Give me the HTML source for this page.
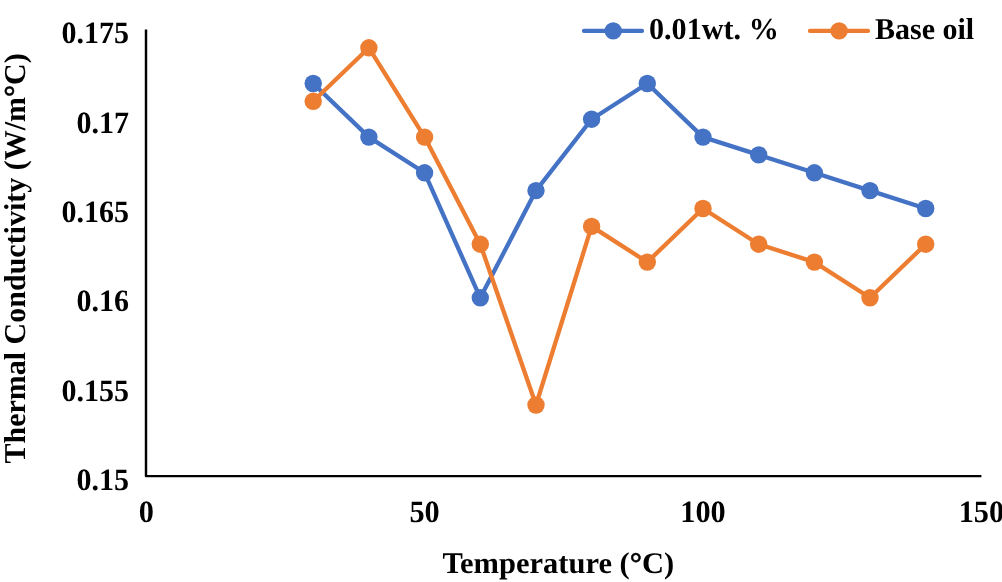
<!DOCTYPE html>
<html><head><meta charset="utf-8"><title>Chart</title>
<style>
html,body{margin:0;padding:0;background:#fff;}
body{width:1002px;height:582px;overflow:hidden;font-family:"Liberation Serif",serif;}
svg{display:block;will-change:transform;}
</style></head><body>
<svg width="1002" height="582" viewBox="0 0 1002 582">
<path d="M146.00 29.60 V476.10 H981.40" fill="none" stroke="#000" stroke-width="2.45" stroke-linejoin="round"/>
<polyline points="313.2,83.5 368.9,137.1 424.6,172.8 480.3,297.8 536.0,190.6 591.6,119.2 647.3,83.5 703.0,137.1 758.7,154.9 814.4,172.8 870.0,190.6 925.7,208.5" fill="none" stroke="#4472C4" stroke-width="4.3" stroke-linejoin="round" stroke-linecap="round"/>
<ellipse cx="313.2" cy="83.5" rx="8.7" ry="8.7" fill="#4472C4"/>
<ellipse cx="368.9" cy="137.1" rx="8.7" ry="8.7" fill="#4472C4"/>
<ellipse cx="424.6" cy="172.8" rx="8.7" ry="8.7" fill="#4472C4"/>
<ellipse cx="480.3" cy="297.8" rx="8.7" ry="8.7" fill="#4472C4"/>
<ellipse cx="536.0" cy="190.6" rx="8.7" ry="8.7" fill="#4472C4"/>
<ellipse cx="591.6" cy="119.2" rx="8.7" ry="8.7" fill="#4472C4"/>
<ellipse cx="647.3" cy="83.5" rx="8.7" ry="8.7" fill="#4472C4"/>
<ellipse cx="703.0" cy="137.1" rx="8.7" ry="8.7" fill="#4472C4"/>
<ellipse cx="758.7" cy="154.9" rx="8.7" ry="8.7" fill="#4472C4"/>
<ellipse cx="814.4" cy="172.8" rx="8.7" ry="8.7" fill="#4472C4"/>
<ellipse cx="870.0" cy="190.6" rx="8.7" ry="8.7" fill="#4472C4"/>
<ellipse cx="925.7" cy="208.5" rx="8.7" ry="8.7" fill="#4472C4"/>

<polyline points="313.2,101.3 368.9,47.8 424.6,137.1 480.3,244.2 536.0,405.0 591.6,226.4 647.3,262.1 703.0,208.5 758.7,244.2 814.4,262.1 870.0,297.8 925.7,244.2" fill="none" stroke="#ED7D31" stroke-width="4.3" stroke-linejoin="round" stroke-linecap="round"/>
<ellipse cx="313.2" cy="101.3" rx="8.7" ry="8.7" fill="#ED7D31"/>
<ellipse cx="368.9" cy="47.8" rx="8.7" ry="8.7" fill="#ED7D31"/>
<ellipse cx="424.6" cy="137.1" rx="8.7" ry="8.7" fill="#ED7D31"/>
<ellipse cx="480.3" cy="244.2" rx="8.7" ry="8.7" fill="#ED7D31"/>
<ellipse cx="536.0" cy="405.0" rx="8.7" ry="8.7" fill="#ED7D31"/>
<ellipse cx="591.6" cy="226.4" rx="8.7" ry="8.7" fill="#ED7D31"/>
<ellipse cx="647.3" cy="262.1" rx="8.7" ry="8.7" fill="#ED7D31"/>
<ellipse cx="703.0" cy="208.5" rx="8.7" ry="8.7" fill="#ED7D31"/>
<ellipse cx="758.7" cy="244.2" rx="8.7" ry="8.7" fill="#ED7D31"/>
<ellipse cx="814.4" cy="262.1" rx="8.7" ry="8.7" fill="#ED7D31"/>
<ellipse cx="870.0" cy="297.8" rx="8.7" ry="8.7" fill="#ED7D31"/>
<ellipse cx="925.7" cy="244.2" rx="8.7" ry="8.7" fill="#ED7D31"/>

<g font-family="'Liberation Serif', serif" font-weight="bold" font-size="30px" fill="#000" style="text-rendering:geometricPrecision">
<text transform="translate(129.00 43.20) scale(1.0000 1.0350)" text-anchor="end">0.175</text>
<text transform="translate(129.00 132.62) scale(1.0000 1.0350)" text-anchor="end">0.17</text>
<text transform="translate(129.00 222.04) scale(1.0000 1.0350)" text-anchor="end">0.165</text>
<text transform="translate(129.00 311.46) scale(1.0000 1.0350)" text-anchor="end">0.16</text>
<text transform="translate(129.00 400.88) scale(1.0000 1.0350)" text-anchor="end">0.155</text>
<text transform="translate(129.00 490.30) scale(1.0000 1.0350)" text-anchor="end">0.15</text>
<text transform="translate(146.20 522.45) scale(1.0100 1.0350)" text-anchor="middle">0</text>
<text transform="translate(424.60 522.45) scale(1.0100 1.0350)" text-anchor="middle">50</text>
<text transform="translate(703.00 522.45) scale(1.0100 1.0350)" text-anchor="middle">100</text>
<text transform="translate(981.40 522.45) scale(1.0100 1.0350)" text-anchor="middle">150</text>
<text transform="translate(558.30 572.80) scale(1.0165 1.0000)" text-anchor="middle">Temperature (<tspan stroke="#000" stroke-width="0.55">°</tspan>C)</text>
<text transform="translate(25.10 258.40) rotate(-90) scale(1.0000 1.0100)" text-anchor="middle">Thermal Conductivity (W/m<tspan stroke="#000" stroke-width="0.55">°</tspan>C)</text>
<text transform="translate(649.00 39.20) scale(1.0050 1.0200)" text-anchor="start">0.01wt. %</text>
<text transform="translate(875.00 39.20) scale(1.0000 1.0100)" text-anchor="start">Base oil</text>
</g>
<line x1="584" y1="30.9" x2="642" y2="30.9" stroke="#4472C4" stroke-width="4.3" stroke-linecap="round"/><ellipse cx="613.2" cy="30.9" rx="8.7" ry="8.7" fill="#4472C4"/>
<line x1="810" y1="30.9" x2="868" y2="30.9" stroke="#ED7D31" stroke-width="4.3" stroke-linecap="round"/><ellipse cx="839.1" cy="30.9" rx="8.7" ry="8.7" fill="#ED7D31"/>
</svg>
</body></html>
